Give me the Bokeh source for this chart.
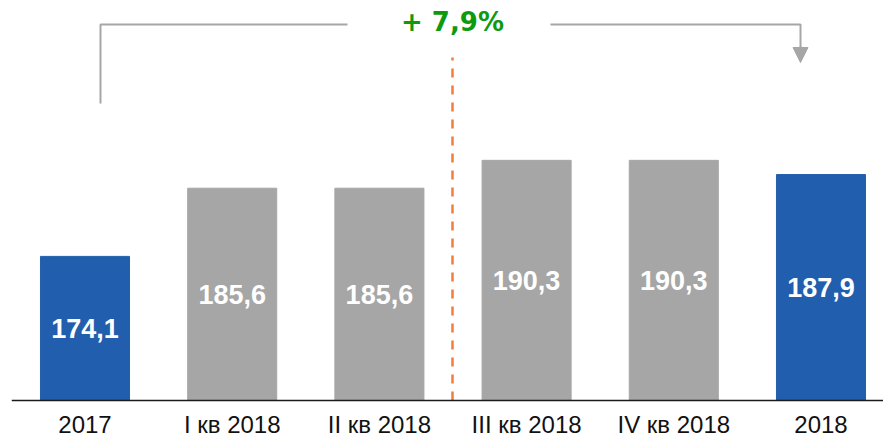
from bokeh.plotting import figure
from bokeh.models import ColumnDataSource, Range1d, Label, Arrow, NormalHead, Span
from bokeh.core.properties import value
from bokeh.embed import file_html
from bokeh.resources import INLINE

# ---- data ----
categories = ["2017", "I кв 2018", "II кв 2018", "III кв 2018", "IV кв 2018", "2018"]
values = [174.1, 185.6, 185.6, 190.3, 190.3, 187.9]
colors = ["#215EAD", "#A6A6A6", "#A6A6A6", "#A6A6A6", "#A6A6A6", "#215EAD"]
labels = ["174,1", "185,6", "185,6", "190,3", "190,3", "187,9"]

# ---- scale set-up ----
W, H = 883, 438
Y0 = 149.8            # value at the baseline of the bars
K = 5.93              # pixels per unit
BASE_PX = 400         # pixel row of the baseline
Y1 = Y0 + BASE_PX / K
YB = Y1 - H / K


def ypx(py):
    """data y for a pixel row (decorations only)"""
    return Y1 - py / K


X_LEFT_PX, X0_PX, STEP_PX = 11, 84.5, 147.2


def xpx(px):
    return (px - X0_PX) / STEP_PX


positions = list(range(len(categories)))

p = figure(width=W, height=H, output_backend="svg", toolbar_location=None,
           x_range=Range1d(xpx(X_LEFT_PX), xpx(W)), y_range=Range1d(YB, Y1),
           min_border_left=X_LEFT_PX, min_border_right=0, min_border_top=0, min_border_bottom=0)
p.outline_line_color = None
p.grid.visible = False
p.axis.visible = False
p.background_fill_color = "white"
p.border_fill_color = "white"

src = ColumnDataSource(dict(x=positions, top=values, color=colors, label=labels,
                            mid=[(Y0 + v) / 2 for v in values], cat=categories))
p.vbar(x="x", top="top", bottom=Y0, width=0.605, color="color", source=src)
p.text(x="x", y="mid", text="label", source=src, text_color="white",
       text_font=value("Liberation Sans"), text_font_style="bold",
       text_font_size="27px", text_align="center", text_baseline="middle")

# x axis line and category labels
p.add_layout(Span(location=Y0, dimension="width", line_color="#1a1a1a", line_width=1.5))
p.text(x="x", y=ypx(424), text="cat", source=src, text_color="#111111",
       text_font=value("Liberation Sans"), text_font_size="24px",
       text_align="center", text_baseline="middle")

# dashed separator between II and III quarters
sep_x = xpx(452)
p.line([sep_x, sep_x], [Y0, ypx(57)], line_color="#F27D3C", line_width=2.5, line_dash="9 8")

# bracket
gray = "#A6A6A6"
xl, xr = xpx(100), xpx(800)
ytop = ypx(24)
p.line([xl, xl, xpx(347)], [ypx(103), ytop, ytop], line_color=gray, line_width=2)
p.line([xpx(550), xr, xr], [ytop, ytop, ypx(48)], line_color=gray, line_width=2)
p.add_layout(Arrow(end=NormalHead(size=15, fill_color=gray, line_color=gray),
                   x_start=xr, y_start=ypx(46), x_end=xr, y_end=ypx(62),
                   line_color=gray, line_width=2))

growth = (values[-1] / values[0] - 1) * 100
growth_text = "+ " + f"{growth:.1f}".replace(".", ",") + "%"
p.add_layout(Label(x=sep_x, y=ypx(21), text=growth_text, text_color="#0E9A0E",
                   text_font="DejaVu Sans", text_font_style="bold", text_font_size="26px",
                   text_align="center", text_baseline="middle"))

html = file_html(p, INLINE)
html = html.replace("<head>", "<head><style>html,body{overflow:hidden;}</style>", 1)
open("out.html", "w").write(html)
